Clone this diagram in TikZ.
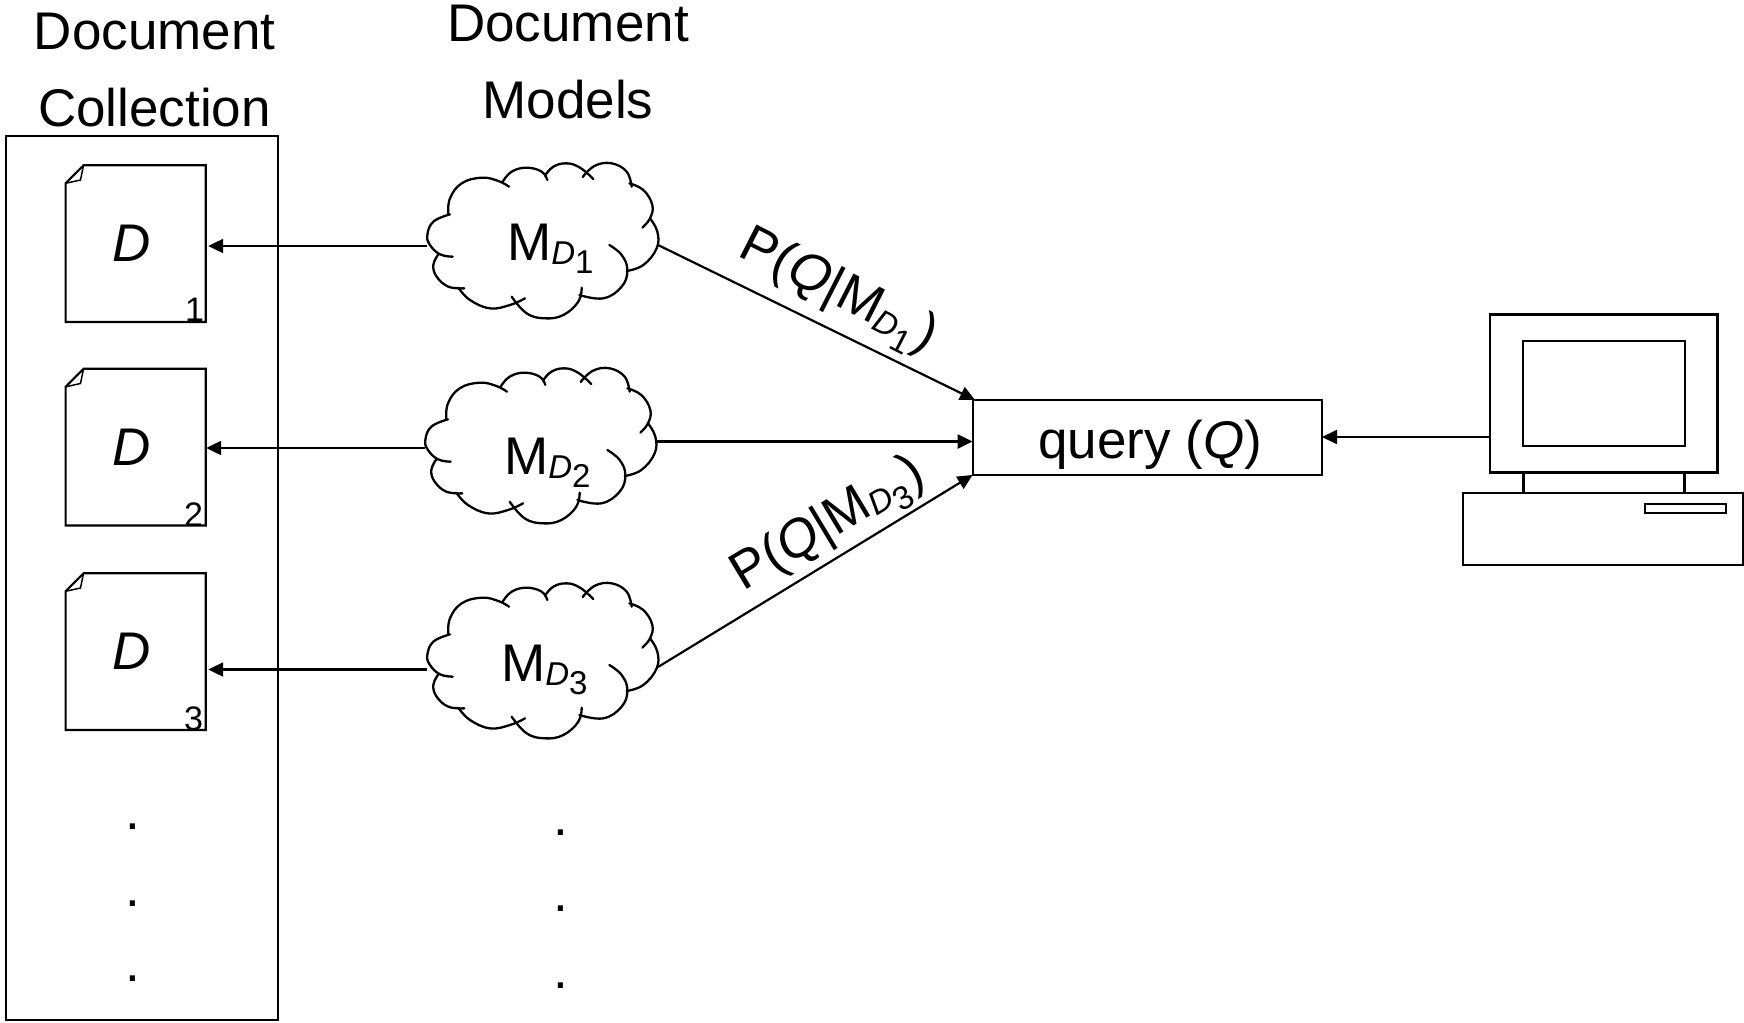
\documentclass[tikz,border=0pt]{standalone}
\usepackage{fontspec}
\setmainfont{Liberation Sans}
\usetikzlibrary{arrows.meta}
\newcommand{\bigtxt}{\fontsize{53}{60}\selectfont}
\newcommand{\msub}[2]{{\fontsize{33}{33}\selectfont\raisebox{-4pt}{\itshape #1}\raisebox{-13pt}{#2}}}
\newcommand{\lobe}[1]{\draw plot[smooth,tension=0.7] coordinates {#1};}
\tikzset{
  outline/.style={draw=black,line width=2.2pt},
  arrowline/.style={draw=black,line width=2.2pt,-{Triangle[length=15pt,width=14pt]}},
  txt/.style={font=\bigtxt,inner sep=0pt,text=black},
  base txt/.style={txt,anchor=base},
  small txt/.style={font=\fontsize{34}{34}\selectfont,inner sep=0pt},
  anchorbox/.style={inner sep=0pt,minimum width=#1,minimum height=150pt},
  pics/cloudshape/.style={code={
    \begin{scope}[scale=1/3,shift={(-367.5,-273)},line width=2.3pt,line cap=round]
    \lobe{(85,178) (90,130) (125,85) (185,68) (235,78) (267,95)}
    \lobe{(248,80) (275,50) (320,38) (365,50) (382,75)}
    \lobe{(375,62) (400,35) (440,25) (480,38) (520,72)}
    \lobe{(488,66) (525,32) (575,25) (620,50) (635,95)}
    \lobe{(628,85) (670,105) (697,150) (690,190) (667,218)}
    \lobe{(690,190) (712,230) (710,280) (670,330) (620,348)}
    \lobe{(568,270) (605,300) (622,345) (605,395) (550,430) (478,420)}
    \lobe{(485,398) (475,440) (430,480) (375,490) (320,475) (275,425)}
    \lobe{(315,430) (270,450) (210,460) (150,435) (115,398)}
    \lobe{(133,400) (85,395) (50,365) (40,330) (55,298)}
    \lobe{(98,305) (60,298) (30,270) (22,240) (40,200) (90,178)}
    \end{scope}
  }},
  pics/docshape/.style={code={
    \draw[outline,line join=miter] (83.5,165.3) -- (205.8,165.3) -- (205.8,322) -- (65.6,322) -- (65.6,183.3) -- cycle;
    \draw[line width=1.5pt] (83.5,165.3) -- (80.5,180) -- (65.6,183.3);
  }}
}
\begin{document}
\begin{tikzpicture}[x=1pt,y=-1pt]
\useasboundingbox (0,0) rectangle (1744,1022);

% collection
\node[draw=black,line width=2.2pt,inner sep=0pt,minimum width=272pt,minimum height=884.3pt] (coll) at (141.75,577.85) {};
\node[txt] (h1) at (154.6,32) {Document};
\node[txt] (h2) at (154.6,108) {Collection};
\node[txt] (h3) at (568,24) {Document};
\node[txt] (h4) at (568,100) {Models};

% documents
\pic at (0,0) {docshape};
\pic at (0,203.5) {docshape};
\pic at (0,408) {docshape};
\node[anchorbox=142pt] (doc1) at (137,246) {};
\node[anchorbox=140pt] (doc2) at (136,448) {};
\node[anchorbox=142pt] (doc3) at (137,669.5) {};
\node[txt,font=\bigtxt\itshape] (d1) at (132,243) {D};
\node[txt,font=\bigtxt\itshape] (d2) at (132,447) {D};
\node[txt,font=\bigtxt\itshape] (d3) at (132,651) {D};
\node[small txt] (n1) at (194.6,310) {1};
\node[small txt] (n2) at (193.5,515) {2};
\node[small txt] (n3) at (193.5,719) {3};

% clouds
\node[anchorbox=231pt] (cloud1) at (542.5,246) {};
\node[anchorbox=231pt] (cloud2) at (540.5,448) {};
\node[anchorbox=231pt] (cloud3) at (542.5,669.5) {};
\pic at (cloud1.center) {cloudshape};
\pic at (540.5,451) {cloudshape};
\pic at (542.5,666) {cloudshape};
\node[base txt,anchor=base west] (m1) at (507,260) {M\msub{D}{1}};
\node[base txt,anchor=base west] (m2) at (504,474) {M\msub{D}{2}};
\node[base txt,anchor=base west] (m3) at (501,681) {M\msub{D}{3}};

% query
\node[draw=black,line width=2.2pt,inner sep=0pt,minimum width=349.4pt,minimum height=75.3pt] (query) at (1147.3,437.65) {};
\node[txt] (qt) at (1150,445) {query (\textit{Q})};

% computer
\node[draw=black,line width=2.5pt,inner sep=0pt,minimum width=227.7pt,minimum height=158pt] (monitor) at (1603.85,393.3) {};
\node[draw=black,line width=2.2pt,inner sep=0pt,minimum width=161.7pt,minimum height=104.7pt] (screen) at (1604.15,393.35) {};
\node[draw=black,line width=2.2pt,inner sep=0pt,minimum width=279.7pt,minimum height=72.6pt] (base) at (1603.15,529) {};
\node[draw=black,line width=2.2pt,inner sep=0pt,minimum width=81pt,minimum height=9pt] (slot) at (1685.5,508.8) {};
\coordinate (neckAa) at (1523.3,472.3);
\coordinate (neckAb) at (1523.3,492.7);
\coordinate (neckBa) at (1684.3,472.3);
\coordinate (neckBb) at (1684.3,492.7);
\draw[line width=2.5pt] (neckAa) -- (neckAb) (neckBa) -- (neckBb);

% connectors
\coordinate (c1out) at (658,245);
\coordinate (c2out) at (656.5,441.5);
\coordinate (c3out) at (658,667);
\coordinate (q1in) at (975,400);
\coordinate (q2in) at (972.6,441.5);
\coordinate (q3in) at (972.6,475);
\coordinate (mon) at (1490,437);
\coordinate (qr) at (1322,437);
\draw[arrowline] (cloud1.west) -- (doc1.east);
\draw[arrowline] (cloud2.west) -- (doc2.east);
\draw[arrowline] (cloud3.west) -- (doc3.east);
\draw[arrowline] (c1out) -- (q1in);
\draw[arrowline] (c2out) -- (q2in);
\draw[arrowline] (c3out) -- (q3in);
\draw[arrowline] (mon) -- (qr);

% probability labels
\node[txt,rotate=-27,anchor=center] (p1) at (838,293) {P(\textit{Q}|M\msub{D}{1}\hspace{2pt})};
\node[txt,rotate=31,anchor=center] (p3) at (829,526) {P(\textit{Q}|M\msub{D}{3}\hspace{2pt})};

% dots
\foreach \n/\x/\y in {a/133/827,b/133/904,c/133/979,d/560.5/833,e/560.5/909,f/560.5/986}
  \node[txt] (dot\n) at (\x,\y) {.};
\end{tikzpicture}
\end{document}
